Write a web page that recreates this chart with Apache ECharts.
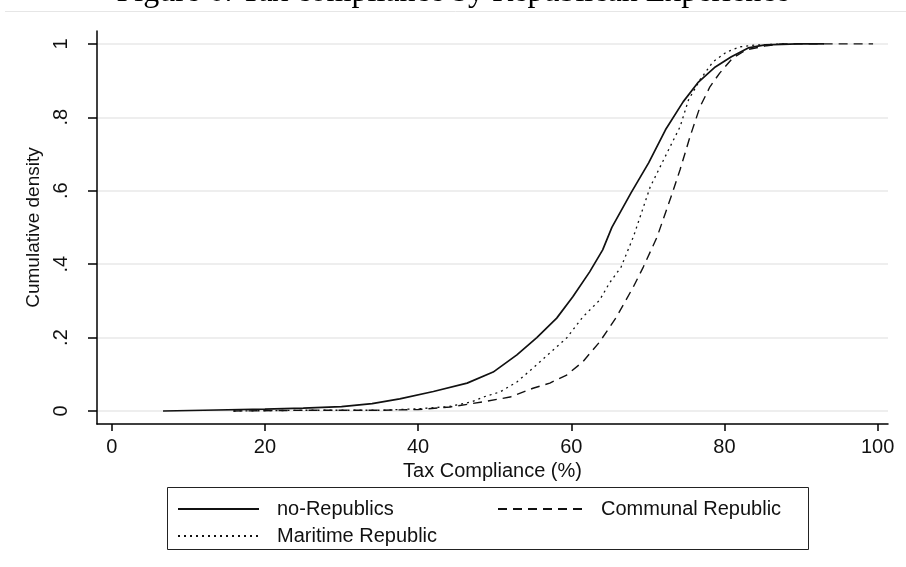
<!DOCTYPE html>
<html>
<head>
<meta charset="utf-8">
<script src="https://cdn.jsdelivr.net/npm/echarts@6/dist/echarts.min.js"></script>
<style>html,body{margin:0;padding:0;background:#fff}#c{width:906px;height:567px}</style>
</head>
<body>
<div id="c"></div>
<script>
// Tick values
const xTicks = [0, 20, 40, 60, 80, 100];
const yTicks = [0, 0.2, 0.4, 0.6, 0.8, 1];

// Series names
const seriesNames = ['no-Republics', 'Communal Republic', 'Maritime Republic'];

// no-Republics: [tax compliance %, cumulative density]
const noRepublics = [
  [6.7, 0], [12, 0.002], [20, 0.005], [25, 0.008], [30, 0.012], [34, 0.02], [37.6, 0.033],
  [42, 0.053], [46.4, 0.076], [49.8, 0.106], [52.9, 0.153], [55.5, 0.2], [58.1, 0.253],
  [60.2, 0.311], [62.4, 0.379], [64.1, 0.439], [65.3, 0.5], [67.8, 0.594], [70.1, 0.676],
  [72.3, 0.766], [74.6, 0.842], [76.6, 0.896], [78.8, 0.937], [80.9, 0.965], [83.1, 0.989],
  [85.3, 0.997], [89.6, 1], [93, 1]
];

// Communal Republic
const communal = [
  [15.9, 0], [25, 0.002], [35, 0.002], [40, 0.004], [44.2, 0.011], [48.5, 0.025], [52, 0.038],
  [55, 0.062], [57.2, 0.076], [59.4, 0.098], [61.5, 0.134], [63.7, 0.188], [65.9, 0.256],
  [68.1, 0.338], [69.4, 0.392], [71.2, 0.474], [73.2, 0.594], [74.2, 0.657], [75.5, 0.747],
  [76.8, 0.828], [78.1, 0.883], [79.4, 0.921], [81.1, 0.962], [82.9, 0.984], [85.5, 0.995],
  [87.6, 1], [99.4, 1]
];

// Maritime Republic
const maritime = [
  [15.9, 0], [25, 0.002], [35, 0.002], [40, 0.006], [44, 0.012], [47, 0.025], [48.5, 0.038],
  [50.7, 0.052], [52.9, 0.079], [55, 0.117], [57.2, 0.158], [59.4, 0.199], [61.5, 0.256],
  [63.7, 0.302], [65, 0.349], [66.5, 0.392], [68.1, 0.474], [70.3, 0.61], [72.5, 0.703],
  [74.2, 0.774], [75.3, 0.847], [76.8, 0.902], [78.5, 0.951], [80.3, 0.978], [82, 0.992],
  [84.2, 0.997], [88, 1]
];

const chart = echarts.init(document.getElementById('c'), null, {renderer: 'canvas'});
const sans = '"Liberation Sans", Arial, sans-serif';
const legendCommon = {padding: 0, itemHeight: 16, itemStyle: {opacity: 0},
  textStyle: {fontFamily: sans, fontSize: 20, color: '#111', padding: [0, 0, 0, 13]}};

const option = {
  animation: false,
  backgroundColor: '#fff',
  title: {
    text: 'Figure 6: Tax compliance by Republican Experience',
    left: 'center',
    top: -28,
    textStyle: {fontFamily: '"Liberation Serif", "Times New Roman", serif', fontSize: 32, fontWeight: 'normal', color: '#000'}
  },
  graphic: [
    {type: 'line', shape: {x1: 5, y1: 11.5, x2: 906, y2: 11.5}, style: {stroke: '#e6e6e6', lineWidth: 1}, silent: true},
    {type: 'rect', shape: {x: 167.5, y: 487.5, width: 641, height: 62}, style: {fill: null, stroke: '#222', lineWidth: 1}, silent: true}
  ],
  grid: {left: 97, right: 18, top: 31, bottom: 143, containLabel: false},
  legend: [
    Object.assign({data: [seriesNames[0]], left: 177, top: 499, itemWidth: 81}, legendCommon),
    Object.assign({data: [seriesNames[1]], left: 497, top: 499, itemWidth: 85}, legendCommon),
    Object.assign({data: [seriesNames[2]], left: 177, top: 526, itemWidth: 81}, legendCommon)
  ],
  xAxis: {
    type: 'value', min: -1.92, max: 101.35,
    name: 'Tax Compliance (%)', nameLocation: 'middle', nameGap: 31,
    nameTextStyle: {fontFamily: sans, fontSize: 20, color: '#111'},
    axisLine: {show: true, onZero: false, lineStyle: {color: '#000', width: 1.5}},
    axisTick: {show: true, length: 7, customValues: xTicks, lineStyle: {color: '#000', width: 1.5}},
    axisLabel: {customValues: xTicks, margin: 13, fontFamily: sans, fontSize: 20, color: '#111'},
    splitLine: {show: false}
  },
  yAxis: {
    type: 'value', min: -0.0354, max: 1.035,
    name: 'Cumulative density', nameLocation: 'middle', nameGap: 44, nameRotate: 90,
    nameTextStyle: {fontFamily: sans, fontSize: 19, color: '#111'},
    axisLine: {show: true, onZero: false, lineStyle: {color: '#000', width: 1.5}},
    axisTick: {show: true, length: 9, customValues: yTicks, lineStyle: {color: '#000', width: 1.5}},
    axisLabel: {customValues: yTicks, rotate: 90, margin: 26, fontFamily: sans, fontSize: 20, color: '#111',
      formatter: function (v) { if (v === 0) return '0'; if (v === 1) return '1'; return String(+v.toFixed(1)).replace(/^0\./, '.'); }},
    splitLine: {show: true, lineStyle: {color: '#e8e8e8', width: 1.5}}
  },
  series: [
    {name: seriesNames[0], type: 'line', data: noRepublics, symbol: 'none', showSymbol: false,
     lineStyle: {color: '#111', width: 1.7, type: 'solid'}, itemStyle: {color: '#111'}},
    {name: seriesNames[1], type: 'line', data: communal, symbol: 'none', showSymbol: false,
     lineStyle: {color: '#111', width: 1.4, type: [9, 6]}, itemStyle: {color: '#111'}},
    {name: seriesNames[2], type: 'line', data: maritime, symbol: 'none', showSymbol: false,
     lineStyle: {color: '#111', width: 1.3, type: [2, 4]}, itemStyle: {color: '#111'}}
  ]
};
chart.setOption(option);
</script>
</body>
</html>
